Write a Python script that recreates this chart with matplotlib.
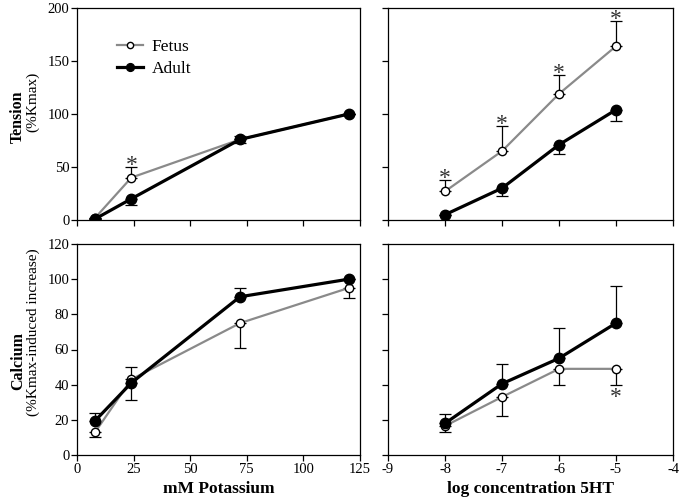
import numpy as np
import matplotlib
matplotlib.use("Agg")
import matplotlib.pyplot as plt

plt.rcParams['font.family'] = ['Liberation Serif', 'DejaVu Serif']
plt.rcParams['axes.unicode_minus'] = False

# x values
k_conc = [8, 24, 72, 120]          # mM potassium
log_5ht = [-8, -7, -6, -5]         # log concentration 5HT

# tension vs potassium (%Kmax)
ten_k_fetus = [2, 40, 76, 100]
ten_k_fetus_lo = [0, 0, 0, 0]
ten_k_fetus_up = [0, 10, 3, 0]
ten_k_adult = [1, 20, 76, 100]
ten_k_adult_lo = [0, 6, 3, 0]
ten_k_adult_up = [0, 0, 0, 0]
ten_k_sig = [False, True, False, False]

# tension vs 5HT
ten_5ht_fetus = [27, 65, 119, 164]
ten_5ht_fetus_lo = [0, 0, 0, 0]
ten_5ht_fetus_up = [11, 24, 18, 24]
ten_5ht_adult = [5, 30, 71, 104]
ten_5ht_adult_lo = [0, 7, 9, 11]
ten_5ht_adult_up = [0, 0, 0, 0]
ten_5ht_sig = [True, True, True, True]

# calcium vs potassium (%Kmax-induced increase)
ca_k_fetus = [13, 43, 75, 95]
ca_k_fetus_lo = [2.5, 0, 14, 5.5]
ca_k_fetus_up = [0, 7, 0, 0]
ca_k_adult = [19.5, 41, 90, 100]
ca_k_adult_lo = [0, 10, 0, 0]
ca_k_adult_up = [4.5, 0, 5, 0]
ca_k_sig = [False, False, False, False]

# calcium vs 5HT
ca_5ht_fetus = [16.5, 33, 49, 49]
ca_5ht_fetus_lo = [3.5, 11, 9, 9]
ca_5ht_fetus_up = [0, 0, 0, 0]
ca_5ht_adult = [18, 40.5, 55, 75]
ca_5ht_adult_lo = [0, 0, 0, 0]
ca_5ht_adult_up = [5.5, 11.5, 17, 21]
ca_5ht_sig = [False, False, False, True]

fig = plt.figure(figsize=(6.85, 5.03), dpi=100)
W, H = 685.0, 503.0


def add_ax(l, t, r, b):
    return fig.add_axes([l / W, 1 - b / H, (r - l) / W, (b - t) / H])


ax_tk = add_ax(77, 8, 360, 220)
ax_t5 = add_ax(388, 8, 673, 220)
ax_ck = add_ax(77, 244, 360, 455)
ax_c5 = add_ax(388, 244, 673, 455)


def draw(ax, x, fy, flo, fup, ay, alo, aup, sig):
    ax.errorbar(x, fy, yerr=[flo, fup], fmt='none', ecolor='black',
                elinewidth=0.9, capsize=4, capthick=0.9, zorder=2)
    ax.errorbar(x, ay, yerr=[alo, aup], fmt='none', ecolor='black',
                elinewidth=0.9, capsize=4, capthick=0.9, zorder=2)
    ax.plot(x, fy, '-o', color='#8a8a8a', lw=1.6, ms=6, mfc='white',
            mec='black', mew=1.0, zorder=3, label='Fetus')
    ax.plot(x, ay, '-o', color='black', lw=2.3, ms=7.5, mfc='black',
            mec='black', zorder=4, label='Adult')
    # significance stars at the end of the fetus error bar
    for xi, yi, lo, up, s in zip(x, fy, flo, fup, sig):
        if not s:
            continue
        if up >= lo:
            ax.annotate('*', (xi, yi + up), xytext=(0, -6.5),
                        textcoords='offset points', ha='center',
                        va='bottom', fontsize=17, color='#333333')
        else:
            ax.annotate('*', (xi, yi - lo), xytext=(0, -2),
                        textcoords='offset points', ha='center',
                        va='top', fontsize=17, color='#333333')


draw(ax_tk, k_conc, ten_k_fetus, ten_k_fetus_lo, ten_k_fetus_up,
     ten_k_adult, ten_k_adult_lo, ten_k_adult_up, ten_k_sig)
draw(ax_t5, log_5ht, ten_5ht_fetus, ten_5ht_fetus_lo, ten_5ht_fetus_up,
     ten_5ht_adult, ten_5ht_adult_lo, ten_5ht_adult_up, ten_5ht_sig)
draw(ax_ck, k_conc, ca_k_fetus, ca_k_fetus_lo, ca_k_fetus_up,
     ca_k_adult, ca_k_adult_lo, ca_k_adult_up, ca_k_sig)
draw(ax_c5, log_5ht, ca_5ht_fetus, ca_5ht_fetus_lo, ca_5ht_fetus_up,
     ca_5ht_adult, ca_5ht_adult_lo, ca_5ht_adult_up, ca_5ht_sig)

for ax in (ax_tk, ax_ck):
    ax.set_xlim(0, 125)
    ax.set_xticks([0, 25, 50, 75, 100, 125])
for ax in (ax_t5, ax_c5):
    ax.set_xlim(-9, -4)
    ax.set_xticks([-9, -8, -7, -6, -5, -4])
for ax in (ax_tk, ax_t5):
    ax.set_ylim(0, 200)
    ax.set_yticks([0, 50, 100, 150, 200])
    ax.tick_params(labelbottom=False)
for ax in (ax_ck, ax_c5):
    ax.set_ylim(0, 120)
    ax.set_yticks([0, 20, 40, 60, 80, 100, 120])
for ax in (ax_t5, ax_c5):
    ax.tick_params(labelleft=False)

for ax in (ax_tk, ax_t5, ax_ck, ax_c5):
    ax.tick_params(direction='out', length=4.5, width=0.9, pad=1,
                   labelsize=10.5)
    for sp in ax.spines.values():
        sp.set_linewidth(0.9)

ax_ck.set_xlabel('mM Potassium', fontsize=12.5, fontweight='bold',
                 labelpad=4)
ax_c5.set_xlabel('log concentration 5HT', fontsize=12.5, fontweight='bold',
                 labelpad=4)

fig.text(18 / W, 1 - 117 / H, 'Tension', rotation=90, ha='center',
         va='center', fontsize=11.5, fontweight='bold')
fig.text(33 / W, 1 - 102 / H, '(%Kmax)', rotation=90, ha='center',
         va='center', fontsize=11)
fig.text(18 / W, 1 - 361 / H, 'Calcium', rotation=90, ha='center',
         va='center', fontsize=11.5, fontweight='bold')
fig.text(33 / W, 1 - 332 / H, '(%Kmax-induced increase)', rotation=90,
         ha='center', va='center', fontsize=11)

leg = ax_tk.legend(loc='upper left', bbox_to_anchor=(0.085, 0.93),
                   frameon=False, fontsize=12.5, handlelength=1.5,
                   handletextpad=0.5, labelspacing=0.35, markerscale=0.75)

fig.savefig('out.png', dpi=100)
